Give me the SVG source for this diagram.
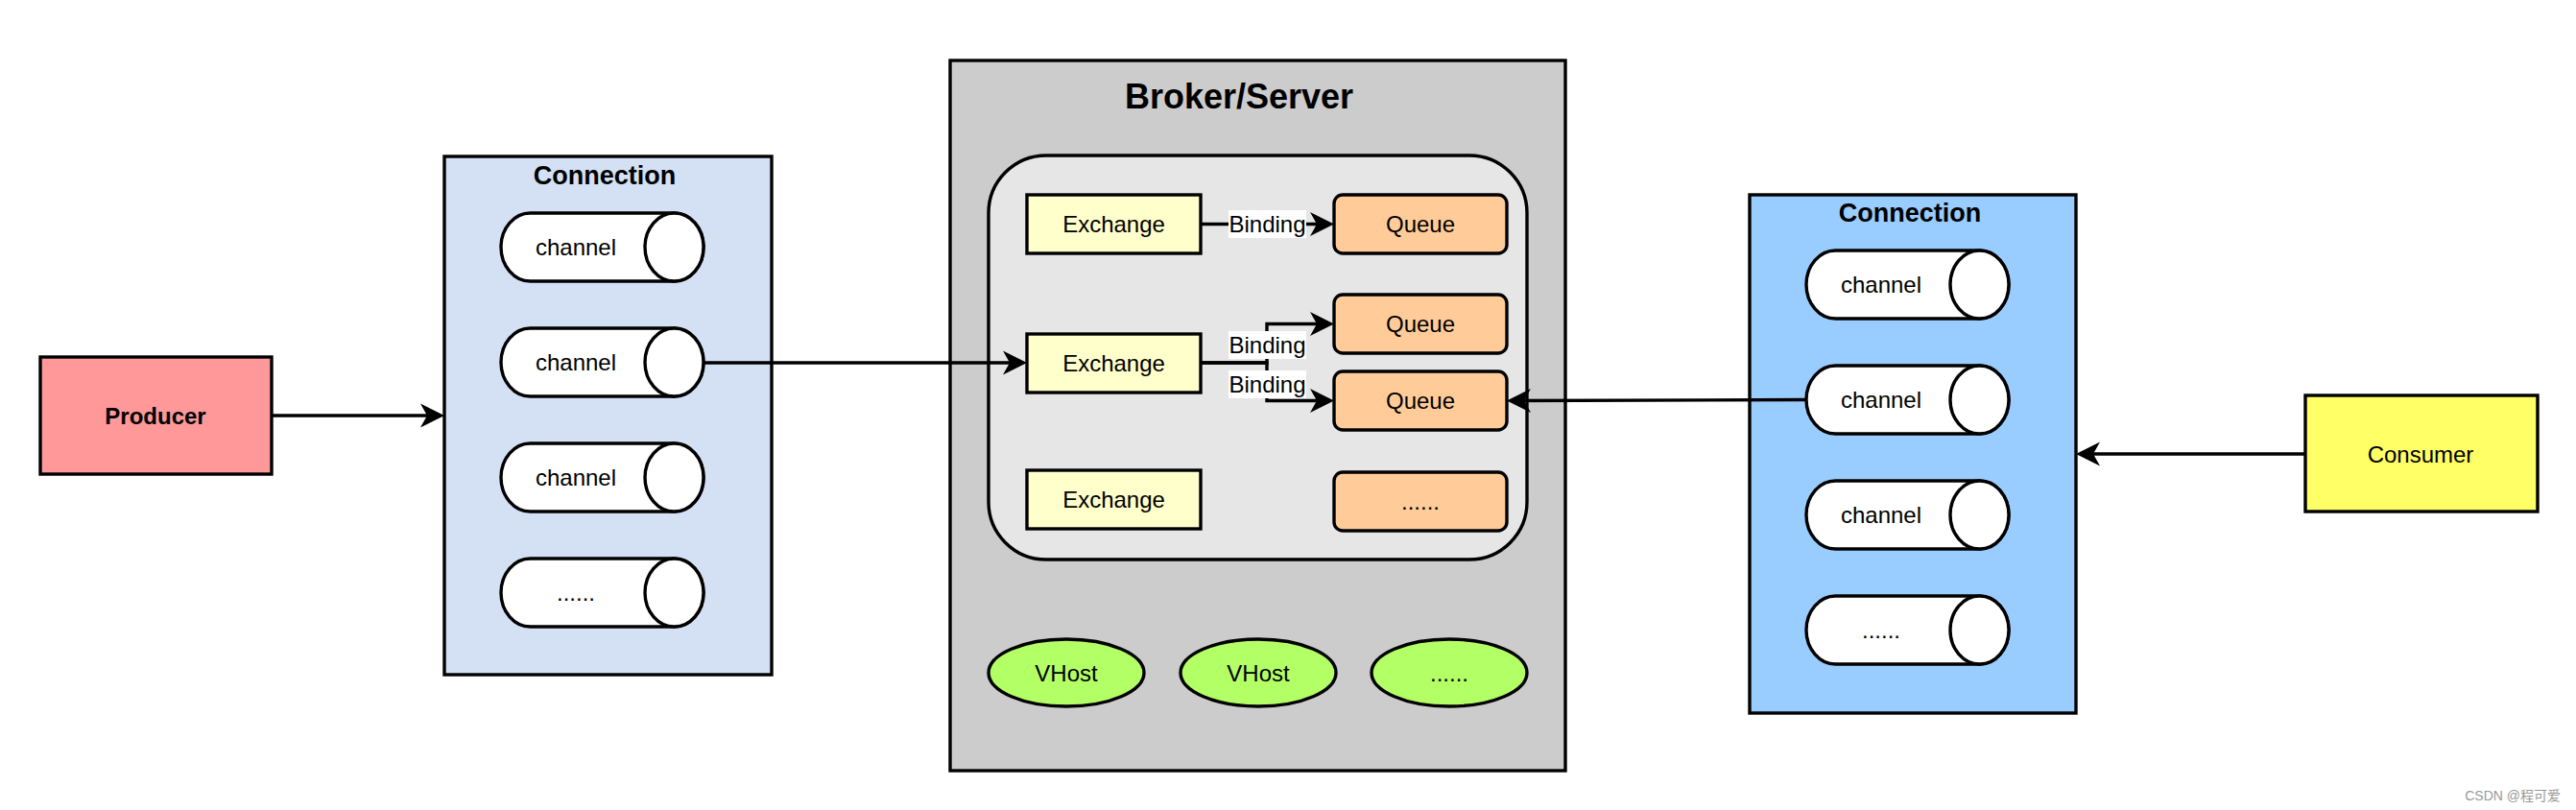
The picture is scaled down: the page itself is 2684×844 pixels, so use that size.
<svg xmlns="http://www.w3.org/2000/svg" xmlns:xlink="http://www.w3.org/1999/xlink" width="2684" height="844" viewBox="0 0 2684 844">
<style>
  text { font-family: "Liberation Sans", Arial, sans-serif; font-size: 24px; fill: #000; text-anchor: middle; }
  .b { font-weight: bold; }
  .shape { stroke: #000; stroke-width: 3.4; }
  .edge { fill: none; stroke: #000; stroke-width: 3.4; }
  .lbl { fill: #fff; stroke: none; }
  .wm { font-family: "Liberation Sans", "Noto Sans CJK SC", sans-serif; font-size: 14px; fill: #999; text-anchor: end; }
</style>
<defs>
  <marker id="arr" markerUnits="userSpaceOnUse" markerWidth="28" markerHeight="28" viewBox="0 0 28 28" refX="18" refY="14" orient="auto">
    <path d="M1,1.5 L26,14 L1,26.5 L8,14 Z" fill="#000"/>
  </marker>
  <g id="cyl">
    <path d="M30.5,0 H180.5 A30.5,35.5 0 0 1 180.5,71 H30.5 A30.5,35.5 0 0 1 30.5,0 Z" fill="#fff" stroke="#000" stroke-width="3.4"/>
    <ellipse cx="180.5" cy="35.5" rx="30.5" ry="35.5" fill="#fff" stroke="#000" stroke-width="3.4"/>
  </g>
</defs>
<rect width="2684" height="844" fill="#fff"/>

<g id="producer">
  <rect class="shape" x="42" y="372" width="241" height="122" fill="#ff9999"/>
  <text class="b" x="162" y="441.5">Producer</text>
</g>

<g id="connection-left">
  <rect class="shape" x="463" y="163" width="341" height="540" fill="#d4e1f5"/>
  <text class="b" x="630" y="192" style="font-size:27px">Connection</text>
</g>
<g id="lchannel1"><use xlink:href="#cyl" x="522" y="222"/><text x="600" y="266">channel</text></g>
<g id="lchannel2"><use xlink:href="#cyl" x="522" y="342"/><text x="600" y="386">channel</text></g>
<g id="lchannel3"><use xlink:href="#cyl" x="522" y="462"/><text x="600" y="506">channel</text></g>
<g id="lchannel4"><use xlink:href="#cyl" x="522" y="582"/><text x="600" y="626">......</text></g>

<g id="broker">
  <rect class="shape" x="990" y="63" width="641" height="740" fill="#cccccc"/>
  <text class="b" x="1291" y="113" style="font-size:36px">Broker/Server</text>
</g>
<g id="vhost-container">
  <rect class="shape" x="1030" y="162" width="561" height="421" rx="60" ry="60" fill="#e6e6e6"/>
</g>
<g id="exchange1"><rect class="shape" x="1070" y="203" width="181" height="61" fill="#ffffcc"/><text x="1160.5" y="242">Exchange</text></g>
<g id="exchange2"><rect class="shape" x="1070" y="348" width="181" height="61" fill="#ffffcc"/><text x="1160.5" y="387">Exchange</text></g>
<g id="exchange3"><rect class="shape" x="1070" y="490" width="181" height="61" fill="#ffffcc"/><text x="1160.5" y="529">Exchange</text></g>
<g id="queue1"><rect class="shape" x="1390" y="203" width="180" height="61" rx="9" fill="#ffcc99"/><text x="1480" y="242">Queue</text></g>
<g id="queue2"><rect class="shape" x="1390" y="307" width="180" height="61" rx="9" fill="#ffcc99"/><text x="1480" y="346">Queue</text></g>
<g id="queue3"><rect class="shape" x="1390" y="387" width="180" height="61" rx="9" fill="#ffcc99"/><text x="1480" y="426">Queue</text></g>
<g id="queue4"><rect class="shape" x="1390" y="492" width="180" height="61" rx="9" fill="#ffcc99"/><text x="1480" y="531">......</text></g>
<g id="vhost1"><ellipse class="shape" cx="1111" cy="701" rx="81" ry="35" fill="#b3ff66"/><text x="1111" y="709.5">VHost</text></g>
<g id="vhost2"><ellipse class="shape" cx="1311" cy="701" rx="81" ry="35" fill="#b3ff66"/><text x="1311" y="709.5">VHost</text></g>
<g id="vhost3"><ellipse class="shape" cx="1510" cy="701" rx="81" ry="35" fill="#b3ff66"/><text x="1510" y="709.5">......</text></g>

<g id="connection-right">
  <rect class="shape" x="1823" y="203" width="340" height="540" fill="#99ccff"/>
  <text class="b" x="1990" y="231" style="font-size:27px">Connection</text>
</g>
<g id="rchannel1"><use xlink:href="#cyl" x="1882" y="261"/><text x="1960" y="305">channel</text></g>
<g id="rchannel2"><use xlink:href="#cyl" x="1882" y="381"/><text x="1960" y="425">channel</text></g>
<g id="rchannel3"><use xlink:href="#cyl" x="1882" y="501"/><text x="1960" y="545">channel</text></g>
<g id="rchannel4"><use xlink:href="#cyl" x="1882" y="621"/><text x="1960" y="665">......</text></g>

<g id="consumer">
  <rect class="shape" x="2402" y="412" width="242" height="121" fill="#ffff66"/>
  <text x="2522" y="481.5">Consumer</text>
</g>

<g id="connectors">
  <path class="edge" d="M283,433 H455" marker-end="url(#arr)"/>
  <path class="edge" d="M733,378 H1062" marker-end="url(#arr)"/>
  <path class="edge" d="M1251,233.5 H1382" marker-end="url(#arr)"/>
  <path class="edge" d="M1251,378 H1320 V337.5 H1382" marker-end="url(#arr)"/>
  <path class="edge" d="M1251,378 H1320 V417.5 H1382" marker-end="url(#arr)"/>
  <path class="edge" d="M1882,416.5 L1578,417.5" marker-end="url(#arr)"/>
  <path class="edge" d="M2402,473 H2171" marker-end="url(#arr)"/>
  <rect class="lbl" x="1280" y="219" width="81" height="29"/>
  <text x="1320.5" y="242">Binding</text>
  <rect class="lbl" x="1280" y="345" width="81" height="29"/>
  <text x="1320.5" y="368">Binding</text>
  <rect class="lbl" x="1280" y="386" width="81" height="29"/>
  <text x="1320.5" y="409">Binding</text>
</g>

<text class="wm" x="2668" y="834">CSDN @程可爱</text>
</svg>
